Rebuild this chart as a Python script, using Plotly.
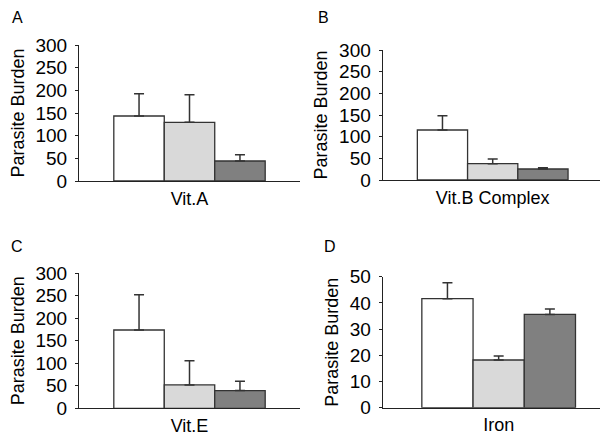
import plotly.graph_objects as go

# ---- data ----
group_names = ["Group 1", "Group 2", "Group 3"]
bar_colors = ["#ffffff", "#d9d9d9", "#808080"]

panel_letters = ["A", "B", "C", "D"]
panel_categories = ["Vit.A", "Vit.B Complex", "Vit.E", "Iron"]

vitA_means = [143.4, 129.4, 44.1]
vitA_err = [49.2, 61.0, 14.0]

vitB_means = [115.4, 37.7, 25.4]
vitB_err = [33.1, 10.8, 3.1]

vitE_means = [174.0, 51.9, 39.3]
vitE_err = [78.6, 54.0, 20.7]

iron_means = [41.6, 18.2, 35.6]
iron_err = [6.1, 1.5, 2.1]

y_ranges = [[0, 300], [0, 300], [0, 300], [0, 50]]
y_dticks = [50, 50, 50, 10]
y_title = "Parasite Burden"

# ---- layout geometry ----
# the page body has an 8px margin, so screen positions are shifted by OFF
W, H, OFF = 600, 429, 8
domains = [
    ((79, 300), (45, 181)),
    ((382.7, 602.7), (50, 180)),
    ((79, 300), (273.3, 408.3)),
    ((382.7, 607), (276.7, 407.7)),
]
x_ranges = [[-0.5, 0.5], [-0.5, 0.5], [-0.5, 0.5], [-0.517, 0.483]]
letter_pos = [(17, 18), (323.5, 18), (17, 246), (330, 246)]


def fx(s):
    return (s - OFF) / W


def fy(s):
    return 1 - (s - OFF) / H


FONT = "Liberation Sans, Arial, Helvetica, sans-serif"
TXT = "#000000"
LINE = "#333333"

means_all = [vitA_means, vitB_means, vitE_means, iron_means]
errs_all = [vitA_err, vitB_err, vitE_err, iron_err]

fig = go.Figure()
layout = dict(
    width=W, height=H,
    margin=dict(l=0, r=0, t=0, b=0, pad=0),
    paper_bgcolor="white", plot_bgcolor="white",
    barmode="group", bargap=0.315, bargroupgap=0,
    showlegend=False,
    font=dict(family=FONT, color=TXT),
)

annotations = []
for p in range(4):
    sfx = "" if p == 0 else str(p + 1)
    xa, ya = "x" + sfx, "y" + sfx
    for g in range(3):
        fig.add_trace(go.Bar(
            x=[panel_categories[p]], y=[means_all[p][g]],
            name=group_names[g],
            marker=dict(color=bar_colors[g], line=dict(color=LINE, width=1.3)),
            error_y=dict(type="data", symmetric=False,
                         array=[errs_all[p][g]], arrayminus=[0],
                         color=LINE, thickness=1.5, width=5),
            xaxis=xa, yaxis=ya,
        ))
    (x0, x1), (y0, y1) = domains[p]
    layout["xaxis" + sfx] = dict(
        domain=[fx(x0), fx(x1)], anchor=ya, automargin=False,
        range=x_ranges[p], showline=True, linecolor="#222222", linewidth=1.2,
        ticks="", showgrid=False, zeroline=False,
        tickfont=dict(size=18, family=FONT, color=TXT),
        ticklabelstandoff=1,
    )
    layout["yaxis" + sfx] = dict(
        domain=[fy(y1), fy(y0)], anchor=xa, automargin=False,
        range=y_ranges[p], dtick=y_dticks[p], tick0=0,
        showline=True, linecolor="#222222", linewidth=1.2,
        ticks="outside", ticklen=3, tickcolor="#222222", tickwidth=1,
        showgrid=False, zeroline=False,
        tickfont=dict(size=19, family=FONT, color=TXT),
        ticklabelstandoff=4,
        title=dict(text=y_title, font=dict(size=18, family=FONT, color=TXT),
                   standoff=6),
    )
    lx, ly = letter_pos[p]
    annotations.append(dict(
        text=panel_letters[p], x=fx(lx), y=fy(ly), xref="paper", yref="paper",
        showarrow=False, xanchor="center", yanchor="middle",
        font=dict(size=16, family=FONT, color=TXT),
    ))

layout["annotations"] = annotations
fig.update_layout(**layout)
fig.write_html("out.html")
